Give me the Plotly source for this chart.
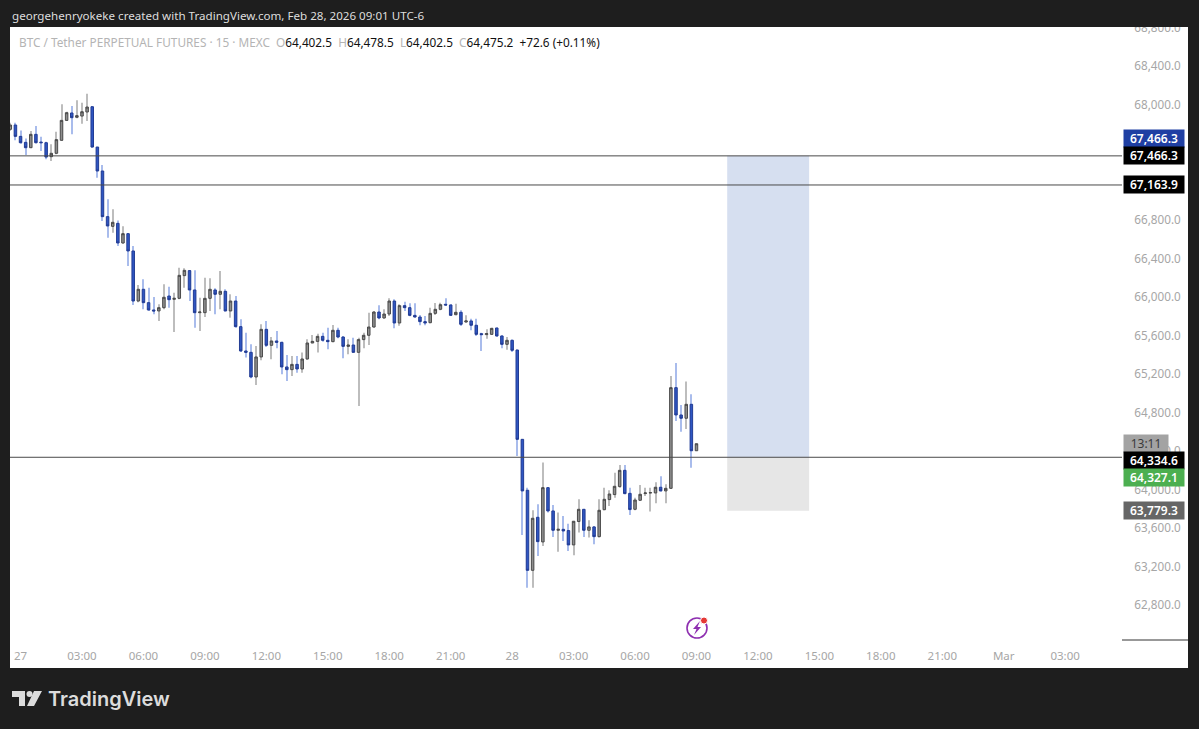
import pandas as pd
import plotly.graph_objects as go

START = "2026-02-26 23:30"
opens = [67742, 67787, 67669, 67607, 67551, 67690, 67610, 67603, 67458, 67493,
         67628, 67835, 67912, 67867, 67880, 67922, 67977, 67558, 67309, 66835,
         66734, 66765, 66561, 66658, 66478, 65958, 66080, 65941, 65865, 65855,
         65889, 66010, 65976, 65986, 66222, 66274, 66073, 65837, 65837, 65986,
         66073, 66028, 66059, 65855, 65958, 65692, 65439, 65425, 65169, 65377,
         65664, 65498, 65543, 65529, 65273, 65245, 65300, 65252, 65356, 65522,
         65539, 65591, 65550, 65536, 65654, 65584, 65487, 65501, 65425, 65557,
         65602, 65688, 65844, 65782, 65823, 65958, 65730, 65910, 65889, 65809,
         65792, 65744, 65733, 65830, 65872, 65924, 65917, 65816, 65841, 65740,
         65751, 65706, 65619, 65609, 65612, 65678, 65595, 65508, 65550, 65449,
         64521, 63992, 63160, 63711, 63455, 64019, 63777, 63576, 63586, 63573,
         63424, 63667, 63794, 63576, 63611, 63510, 63790, 63895, 63947, 64030,
         64199, 63960, 63794, 63888, 63957, 63964, 63964, 64023, 63985, 64012,
         65058, 64774, 64740, 64885, 64402.5]
highs = [67811, 67811, 67731, 67648, 67725, 67776, 67666, 67614, 67586, 67718,
         68002, 67925, 67984, 68043, 68019, 68112, 67984, 67558, 67371, 67015,
         66911, 66796, 66734, 66665, 66530, 66125, 66184, 66097, 66000, 65924,
         66132, 66107, 66045, 66305, 66298, 66277, 66277, 65993, 66201, 66194,
         66090, 66270, 66080, 66028, 66010, 65768, 65629, 65508, 65491, 65716,
         65751, 65584, 65647, 65535, 65397, 65387, 65387, 65422, 65560, 65605,
         65619, 65629, 65681, 65709, 65681, 65595, 65560, 65577, 65577, 65629,
         65837, 65854, 65913, 65872, 65986, 65976, 65924, 65951, 65934, 65934,
         65813, 65802, 65889, 65938, 65941, 65986, 65924, 65931, 65861, 65809,
         65775, 65775, 65629, 65664, 65681, 65681, 65602, 65584, 65557, 65455,
         64525, 64019, 63784, 63846, 64279, 64026, 63839, 63760, 63725, 63645,
         63673, 63898, 63794, 63680, 63621, 63898, 64019, 63992, 64175, 64255,
         64255, 64019, 63915, 64047, 64019, 64019, 64075, 64137, 64054, 65179,
         65314, 64878, 65121, 64989, 64478.5]
lows = [67725, 67628, 67593, 67475, 67551, 67596, 67517, 67430, 67413, 67482,
        67621, 67828, 67690, 67856, 67801, 67828, 67551, 67240, 66790, 66616,
        66668, 66530, 66554, 66322, 65917, 65945, 65872, 65855, 65820, 65751,
        65872, 65889, 65636, 65976, 66097, 65958, 65681, 65647, 65792, 65855,
        65820, 65872, 65848, 65785, 65680, 65428, 65370, 65155, 65086, 65342,
        65480, 65352, 65467, 65196, 65127, 65179, 65214, 65214, 65349, 65519,
        65422, 65536, 65456, 65529, 65570, 65363, 65404, 65418, 64867, 65467,
        65501, 65681, 65768, 65775, 65802, 65674, 65702, 65854, 65799, 65785,
        65706, 65706, 65726, 65813, 65861, 65906, 65802, 65809, 65699, 65733,
        65654, 65595, 65439, 65567, 65605, 65588, 65467, 65453, 65428, 64348,
        63528, 62980, 62980, 63309, 63413, 63760, 63507, 63354, 63465, 63361,
        63316, 63552, 63507, 63500, 63431, 63500, 63784, 63829, 63915, 64019,
        63950, 63735, 63784, 63881, 63933, 63770, 63857, 63978, 63857, 64005,
        64712, 64601, 64629, 64227, 64402.5]
closes = [67787, 67669, 67603, 67551, 67690, 67603, 67603, 67454, 67493, 67635,
          67835, 67915, 67863, 67884, 67925, 67974, 67558, 67309, 66835, 66738,
          66776, 66561, 66658, 66478, 65958, 66080, 65941, 65865, 65855, 65889,
          65997, 65972, 65986, 66225, 66277, 66073, 65837, 65844, 65986, 66080,
          66028, 66059, 65855, 65958, 65692, 65439, 65425, 65169, 65377, 65664,
          65498, 65543, 65529, 65273, 65245, 65300, 65252, 65356, 65522, 65539,
          65591, 65550, 65536, 65654, 65584, 65487, 65501, 65425, 65557, 65602,
          65688, 65844, 65782, 65823, 65958, 65730, 65910, 65889, 65809, 65792,
          65744, 65730, 65830, 65872, 65920, 65917, 65809, 65841, 65716, 65751,
          65706, 65612, 65609, 65619, 65674, 65595, 65508, 65550, 65446, 64521,
          63985, 63160, 63701, 63458, 64019, 63777, 63576, 63586, 63569, 63424,
          63670, 63794, 63576, 63611, 63510, 63784, 63898, 63953, 64033, 64199,
          63957, 63791, 63891, 63950, 63964, 63967, 64023, 63985, 64012, 65058,
          64774, 64740, 64885, 64402.5, 64475.2]
price_ticks = [62800, 63200, 63600, 64000, 64400, 64800, 65200, 65600, 66000,
               66400, 66800, 67200, 67600, 68000, 68400, 68800]
hidden_price_ticks = [67200, 67600]
time_ticks = ["2026-02-27 00:00", "2026-02-27 03:00", "2026-02-27 06:00", "2026-02-27 09:00",
              "2026-02-27 12:00", "2026-02-27 15:00", "2026-02-27 18:00", "2026-02-27 21:00",
              "2026-02-28 00:00", "2026-02-28 03:00", "2026-02-28 06:00", "2026-02-28 09:00",
              "2026-02-28 12:00", "2026-02-28 15:00", "2026-02-28 18:00", "2026-02-28 21:00",
              "2026-03-01 00:00", "2026-03-01 03:00"]
time_labels = ["27", "03:00", "06:00", "09:00", "12:00", "15:00", "18:00", "21:00", "28",
               "03:00", "06:00", "09:00", "12:00", "15:00", "18:00", "21:00", "Mar", "03:00"]
level_top, level_mid, level_entry, level_stop = 67466.3, 67163.9, 64334.6, 63779.3
last_price = 64327.1
zone_start, zone_end = "2026-02-28 10:30", "2026-02-28 14:30"

FONT = "Noto Sans"
W, H = 1199, 729
L, R, T, B = 10, 1122, 20, 640
BAR_MS = 15 * 60 * 1000

times = pd.date_range(START, periods=len(opens), freq="15min")


def px(x):
    return (x - L) / (R - L)


def py(y):
    return (B - y) / (B - T)


def split(idx, values):
    return [values[i] for i in idx]


up = [i for i in range(len(opens)) if closes[i] >= opens[i]]
down = [i for i in range(len(opens)) if closes[i] < opens[i]]

fig = go.Figure()
for idx, colour in ((up, "#bdbdbd"), (down, "#a9bcec")):
    fig.add_trace(go.Bar(
        x=[times[i] for i in idx],
        base=split(idx, lows),
        y=[highs[i] - lows[i] for i in idx],
        width=BAR_MS * 0.2,
        marker=dict(color=colour, line=dict(width=0)),
        showlegend=False, hoverinfo="skip",
    ))
fig.add_trace(go.Candlestick(
    x=times, open=opens, close=closes,
    high=[max(a, b) for a, b in zip(opens, closes)],
    low=[min(a, b) for a, b in zip(opens, closes)],
    increasing=dict(fillcolor="#8e8e8e", line=dict(color="#4a4a4a", width=1)),
    decreasing=dict(fillcolor="#2f56c2", line=dict(color="#223c94", width=1)),
    whiskerwidth=0, showlegend=False,
))

shapes = [
    dict(type="rect", xref="paper", yref="paper", x0=px(10), x1=px(1188), y0=py(27), y1=py(668),
         fillcolor="#ffffff", line=dict(width=0), layer="below"),
    dict(type="rect", x0=zone_start, x1=zone_end, y0=level_entry, y1=level_top, xref="x", yref="y",
         fillcolor="#d6dff0", line=dict(width=0), layer="below"),
    dict(type="rect", x0=zone_start, x1=zone_end, y0=level_stop, y1=level_entry, xref="x", yref="y",
         fillcolor="#e6e6e6", line=dict(width=0), layer="below"),
    dict(type="line", xref="paper", yref="paper", x0=px(1122), x1=px(1188), y0=py(640), y1=py(640),
         line=dict(color="#333333", width=1), layer="below"),
    # dark header band that trims the top tick label
    dict(type="rect", xref="paper", yref="paper", x0=px(0), x1=px(1199), y0=py(0), y1=py(27),
         fillcolor="#1e1e1e", line=dict(width=0), layer="above"),
    # TradingView logo
    dict(type="path", xref="paper", yref="paper", layer="above", line=dict(width=0), fillcolor="#dcdcdc",
         path="M {} {} L {} {} L {} {} L {} {} L {} {} L {} {} Z".format(
             px(12), py(691), px(25), py(691), px(25), py(706), px(19), py(706), px(19), py(697), px(12), py(697))),
    dict(type="circle", xref="paper", yref="paper", layer="above", line=dict(width=0), fillcolor="#dcdcdc",
         x0=px(26.5), x1=px(32.5), y0=py(691), y1=py(697)),
    dict(type="path", xref="paper", yref="paper", layer="above", line=dict(width=0), fillcolor="#dcdcdc",
         path="M {} {} L {} {} L {} {} L {} {} Z".format(
             px(34), py(691), px(42), py(691), px(34), py(706), px(27), py(706))),
    # lightning icon
    dict(type="circle", xref="paper", yref="paper", layer="above", fillcolor="rgba(0,0,0,0)",
         line=dict(color="#8e2fb0", width=1.6), x0=px(687), x1=px(707), y0=py(618), y1=py(638)),
    dict(type="path", xref="paper", yref="paper", layer="above", line=dict(width=0), fillcolor="#8e2fb0",
         path="M {} {} L {} {} L {} {} L {} {} L {} {} L {} {} Z".format(
             px(700), py(621), px(693), py(629), px(696.5), py(629), px(694), py(635), px(701), py(627), px(697.5), py(627))),
    dict(type="circle", xref="paper", yref="paper", layer="above", fillcolor="#e53935",
         line=dict(color="#ffffff", width=1), x0=px(700.5), x1=px(707.5), y0=py(617), y1=py(624)),
]
for level in (level_top, level_mid, level_entry):
    shapes.append(dict(type="line", xref="x domain", yref="y", x0=0, x1=1, y0=level, y1=level,
                       line=dict(color="#4a4a4a", width=1), layer="above"))


def tag(text, level, bg, fg="#ffffff", shift=0, width=60, bold=True):
    return dict(xref="paper", yref="y", x=px(1123), y=level, xanchor="left", yanchor="middle",
                yshift=shift, text=text, showarrow=False, bgcolor=bg, width=width, height=17,
                borderpad=0, align="center",
                font=dict(family=FONT, size=12, color=fg, weight=600 if bold else 400))


def fmt(v):
    return f"{v:,.1f}"


legend = ('<span style="color:#b4b4b4">BTC / Tether PERPETUAL FUTURES · 15 · MEXC  O</span>'
          '64,402.5  <span style="color:#b4b4b4">H</span>64,478.5  '
          '<span style="color:#b4b4b4">L</span>64,402.5  '
          '<span style="color:#b4b4b4">C</span>64,475.2  +72.6 (+0.11%)')

annotations = [
    dict(xref="paper", yref="paper", x=px(10), y=py(15), xanchor="left", yanchor="middle", showarrow=False,
         text="georgehenryokeke created with TradingView.com, Feb 28, 2026 09:01 UTC-6",
         font=dict(family=FONT, size=11.6, color="#dddddd")),
    dict(xref="paper", yref="paper", x=px(17), y=py(42), xanchor="left", yanchor="middle", showarrow=False,
         text=legend, font=dict(family=FONT, size=11.8, color="#111111")),
    dict(xref="paper", yref="paper", x=px(46), y=py(699), xanchor="left", yanchor="middle", showarrow=False,
         text="TradingView", font=dict(family="Inter", size=20, color="#dcdcdc", weight=600)),
    tag(fmt(level_top), level_top, "#1f3fa3", shift=17),
    tag(fmt(level_top), level_top, "#000000"),
    tag(fmt(level_mid), level_mid, "#000000"),
    tag("13:11", level_entry, "#a3a3a3", fg="#3a3a3a", shift=14, width=44, bold=False),
    tag(fmt(level_entry), level_entry, "#000000", shift=-3),
    tag(fmt(last_price), last_price, "#4caf50", shift=-20),
    tag(fmt(level_stop), level_stop, "#666666"),
]

fig.update_layout(
    width=W, height=H, autosize=False,
    margin=dict(l=L, r=W - R, t=T, b=H - B, pad=0),
    paper_bgcolor="#1e1e1e", plot_bgcolor="rgba(0,0,0,0)",
    barmode="overlay", boxgap=0.3, showlegend=False,
    shapes=shapes, annotations=annotations,
    xaxis=dict(type="date", range=["2026-02-26 23:29:06", "2026-03-01 05:46:30"],
               rangeslider=dict(visible=False), showgrid=False, zeroline=False, showline=False,
               tickmode="array", tickvals=time_ticks, ticktext=time_labels, ticks="outside",
               ticklen=5, tickcolor="rgba(0,0,0,0)", tickangle=0,
               tickfont=dict(family=FONT, size=11.5, color="#a6a6a6")),
    yaxis=dict(side="right", range=[62436, 68878], showgrid=False, zeroline=False, showline=False,
               tickmode="array",
               tickvals=[v for v in price_ticks if v not in hidden_price_ticks],
               ticktext=[fmt(v) for v in price_ticks if v not in hidden_price_ticks],
               ticks="outside", ticklen=9, tickcolor="rgba(0,0,0,0)",
               tickfont=dict(family=FONT, size=11.7, color="#a6a6a6")),
)

fig.write_html("out.html", config=dict(displayModeBar=False),
               post_script="document.body.style.margin='0';document.body.style.overflow='hidden';")
